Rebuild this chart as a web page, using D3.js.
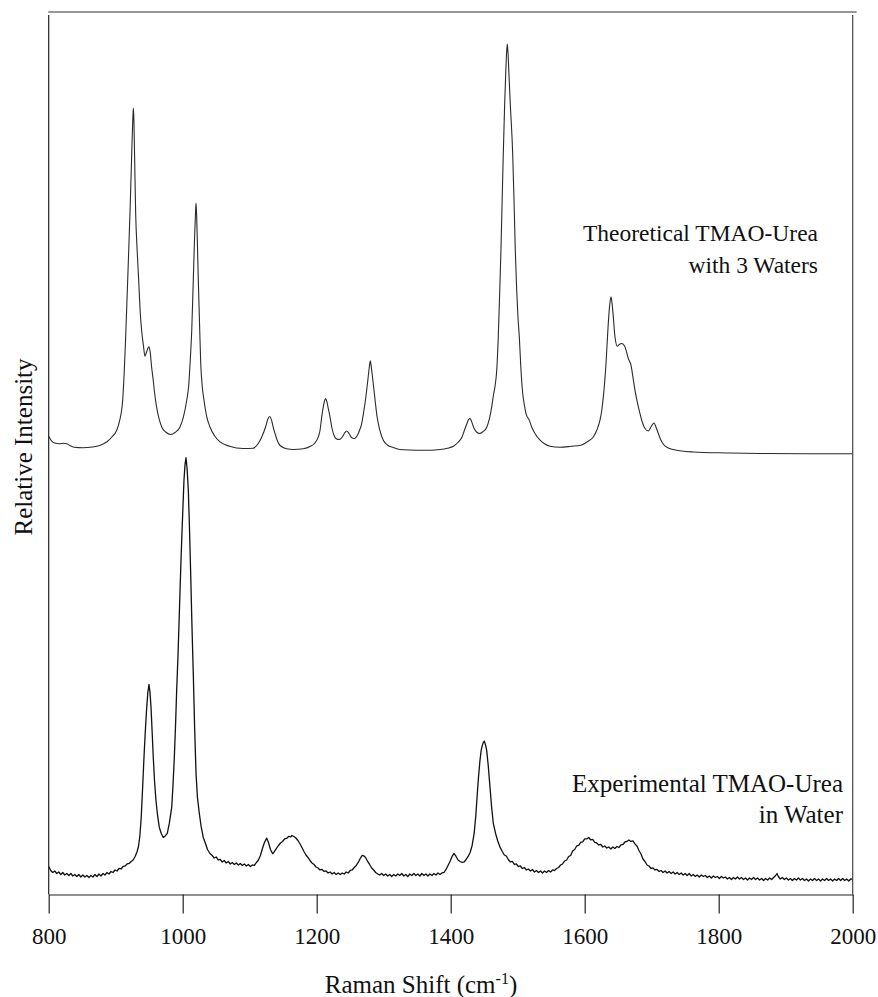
<!DOCTYPE html>
<html>
<head>
<meta charset="utf-8">
<script src="https://cdn.jsdelivr.net/npm/d3@7"></script>
<style>
  html, body { margin: 0; padding: 0; background: #fff; }
  svg { display: block; }
  text { font-family: "Liberation Serif", "Times New Roman", serif; fill: #111; }
</style>
</head>
<body>
<svg id="chart" width="878" height="997"></svg>
<script>
// ---------------- DATA ----------------
const xTicks = [800, 1000, 1200, 1400, 1600, 1800, 2000];

const theoShift = [800,804,809,816,822,827,832,838,851,865,877,887,894,901.5,906,910.4,912.5,914.3,916.3,917.9,919.7,921.3,923,924.5,925.5,926.3,927.2,928.3,929.8,932,934.3,936.7,939,941.5,943.7,946,948,949.7,951.5,953.5,956,958.5,961,964.5,968.7,975,982,989,996,1001,1006,1009,1011,1013.5,1015.8,1017.6,1019,1019.9,1020.8,1022,1023.3,1025.2,1026.9,1029,1031.8,1036,1040.7,1048,1055.7,1070,1090,1105,1112,1118,1124,1127,1130,1133,1135.5,1137.8,1141,1145,1155,1165,1180,1190,1197,1202.4,1205,1207.5,1210,1212,1213.4,1215,1217.5,1219.9,1222.5,1225.8,1229,1233.7,1238,1241.5,1244.8,1248,1251.5,1256,1260,1264,1267.2,1270.5,1272.7,1274.6,1276.8,1278.5,1280,1281.5,1283.5,1285.5,1288,1290,1292,1295.5,1299.4,1306,1314.3,1324,1350,1370,1384,1395,1404,1411,1416.9,1421,1424.3,1427,1428.8,1431,1435,1439,1443,1448,1454,1458,1461.2,1464,1466,1468.7,1471,1473,1475,1476.8,1478.5,1480.5,1482.3,1483.5,1484.5,1485.5,1487,1489,1492.5,1494.5,1496.4,1498.5,1500.5,1502.4,1504.5,1507.5,1510,1512.4,1517.3,1521,1525.8,1533.3,1540,1548.2,1563,1580,1594,1604,1612.8,1618,1622.8,1625.5,1627.8,1629.8,1631.8,1633.5,1635.2,1637.3,1639.2,1640.8,1642.7,1645.2,1648.7,1652,1655.2,1658,1660.1,1662.5,1665.1,1669.1,1672,1675,1678.5,1682.5,1686,1690,1695,1699.5,1703.4,1706.5,1709.9,1713.5,1717.3,1724,1732.2,1745,1762,1812,1861.6,1930,2000];
const theoIntensity = [458,453.5,451.3,450.5,451,450.5,448.5,447,446.5,447.2,449,452.5,457,464,474,494,519,547,584,614,649,681,719,754,774,786,774,734,681,644,614,581,562,548,538,542,546,547.3,542,528,514,499,487.3,476,467.3,462,459.7,462,467.3,477,494,509,531,564,614,654,679,691,679,649,614,569,531,509,494,477,467.3,458,452.3,448,445.7,446,450,457.3,468,475,477.7,473,466,460.7,454,449,445.5,444.7,445.5,447.7,451,457.3,464,477.3,488,494,495.7,493,485,477.3,467,459,455.5,454.7,457,461,463.3,461,457,455.7,458,464,470.7,484,494,504,517,527,533.3,527,516,504,489,478,470.7,461,454,449,446.7,444.7,444,444,444.7,446,448,452,457.3,465,470.7,475,475.7,473,465.7,462,460.7,462.5,467.3,476,487.3,500,507.3,524,557.3,599,644,694,740.7,789,824,842,850,842,819,789,740.7,694,644,604,576,557.3,529,500.7,489,480.7,474,467,460.7,454,450.5,448,447,448,449,452.5,457.3,464,474,484,497.3,512,530.7,551,570.7,589,597.3,591,577.3,557.3,548,550,550.7,549.5,547.3,542,535.7,529,517,504,492,480.7,472,465.7,463.3,468,471.3,467,460.7,454.5,450,446.5,444.7,443.2,442.3,441.3,440.7,440.5,440.5];

const expShift = [800,803,806,809,812,815,818,821,824,827,830,833,836,839,842,845,848,851,854,857,860,863,866,869,872,875,878,881,884,887,890,893,896,899,902,905,908,911,914,917,920,923,926,929,932,934,936,938,940,942.2,944,946.3,948,949.7,951.2,952.7,954.5,956.1,958,960.1,962.5,965.1,968,971,974,977,980,983.6,985.5,987.5,989.3,991,993,994.5,996.5,998.5,1000.3,1001.9,1003.5,1004.9,1006.5,1008.4,1010,1011.9,1013.8,1015.8,1017.8,1019.9,1022,1024.8,1027.5,1030.7,1034,1037,1040.7,1044,1047,1050,1053,1056,1059,1062,1065,1068,1071,1074,1077,1080,1083,1086,1089,1092,1095,1098,1101,1104,1107,1110,1113,1116,1119,1122,1125.4,1128,1131,1134.3,1137,1140,1143,1146,1149,1152,1155,1158,1161,1163,1166,1169,1172,1175,1178,1181,1184,1187,1190,1193,1196,1199,1202,1205,1208,1211,1214,1217,1220,1223,1226,1229,1232,1235,1238,1241,1244,1247,1250,1253,1256,1259,1262,1265,1268,1270.5,1273,1276,1279,1282,1285,1288,1291,1294,1297,1300,1303,1306,1309,1312,1315,1318,1321,1324,1327,1330,1333,1336,1339,1342,1345,1348,1351,1354,1357,1360,1363,1366,1369,1372,1375,1378,1381,1384,1387,1390,1393,1396,1399,1402,1405,1408,1411,1414,1417,1420,1423,1426,1429,1432,1435,1437.5,1439.7,1441.7,1443.7,1445.5,1447.2,1448.7,1450.1,1451.8,1453.7,1456,1458.7,1461,1463.6,1467,1470,1473.6,1477,1480,1483,1486,1489,1492,1495,1498,1501,1504,1507,1510,1513,1516,1519,1522,1525,1528,1531,1534,1537,1540,1543,1546,1549,1552,1555,1558,1561,1564,1567,1570,1573,1576,1579,1582,1585,1588,1591,1594,1597,1600,1603,1606,1609,1612,1615,1618,1621,1624,1627,1630,1633,1636,1639,1642,1645,1648,1651,1654,1657,1660,1663,1666,1669,1672,1675,1678,1681,1684,1687,1690,1693,1696,1699,1702,1705,1708,1711,1714,1717,1720,1723,1726,1729,1732,1735,1738,1741,1744,1747,1750,1753,1756,1759,1762,1765,1768,1771,1774,1777,1780,1783,1786,1789,1792,1795,1798,1801,1804,1807,1810,1813,1816,1819,1822,1825,1828,1831,1834,1837,1840,1843,1846,1849,1852,1855,1858,1861,1864,1867,1870,1873,1876,1879,1882,1885,1887,1889,1892,1895,1898,1901,1904,1907,1910,1913,1916,1919,1922,1925,1928,1931,1934,1937,1940,1943,1946,1949,1952,1955,1958,1961,1964,1967,1970,1973,1976,1979,1982,1985,1988,1991,1994,1997,2000];
const expIntensity = [28,24,22,23.5,21,22.5,20,22,19.5,21,19,21,18.5,20,18,20,17.5,19.5,17.5,19,17,19,17.5,20,18,20.5,18.5,21,19.5,22,20.5,23,22,24.5,23.5,26,25.5,28,28.5,30.5,31,33,34.5,38,43,48,58,76,104,137,161,187,202,210,202,187,161,137,113,94,79,67,61,57,58.5,61,71,87,109,137,169,204,239,271,314,354,386,414,430,436.5,426,404,369,321,269,221,167,121,97,81,68,57,51,45,41,39,36.5,37.5,34.5,35,32.5,34,31.5,33,30.5,32,30,31.5,29.5,31,29,30.5,28.5,30,28,29.5,29,32,34.5,39,46,52,56.3,52,45,40.7,43,46,49,51.5,53,55.5,56,58,57.5,59,58,56.5,54,50.7,47,43,39.5,37,34,31.5,30,27.5,26.5,24.5,25,23,23.5,21.5,22.5,20.5,22,20,21.5,20,21.5,20.5,22.5,21.5,24,24.5,27,29,32,36,39,38.5,37,33,30,26.5,24.5,22,20.5,19.5,21,19,20.5,18.5,20,18,20,18.5,20.5,19,21,18.5,20,18,20.5,19,21,19,20.5,18.5,21,19,20.5,18.5,20.5,19,21,19.5,21.5,20,21.5,22,25,29,33,38,41,38,34.5,33,32,32.5,35,38,42,49,61,79,101,119,134,144,149,152,153.3,150,144,129,107,88,71,61,54,47.3,43,39.5,38.5,35,32.5,33,30,30.5,28,28.5,26,27,24.5,25.5,23.5,25,22.5,24,22,23.5,21.5,23.5,22,24,22.5,24.5,24,26,27,29.5,30.5,33.5,34.5,38,39,43.5,45,48.5,49,52,52.5,55.5,55.5,57,54.5,55,52,51.5,49.5,50,47.5,48.5,46.5,47.5,45.5,47.5,46,48,47,49.5,50,52.5,53,54.5,53,53.5,50.5,48.5,44,40.5,35.5,33,29.5,28.5,26,26.5,24.5,25,23,24,22,23.5,21.5,23,21,22.5,20.5,22,20,21.5,19.5,21,19,21,18.5,20,18,19.5,17.5,19.5,18,19,17,18.5,16.5,18.5,17,18,16,18,16.5,17.5,15.5,17,15,17,15.5,17.5,15.5,17,15,16.5,14.5,16.5,15,17,15,16.5,14.5,16,14,16,14.5,16.5,15,17,19,21,18,15.5,17,15,16.5,14.5,16,14,16,14.5,16.5,14.5,16,14,15.5,13.5,15.5,14,16,14,15.5,13.5,15.5,14,16,14,15.5,13.5,15.5,14,16,14,16,14,15.5,13.5,15.5,15];

const labelTheo = ["Theoretical TMAO-Urea", "with 3 Waters"];
const labelExp = ["Experimental TMAO-Urea", "in Water"];

// ---------------- CHART ----------------
const svg = d3.select("#chart");
const mLeft = 48.7, mRight = 852.7, mTop = 14, mBottom = 894.5;

const x = d3.scaleLinear().domain([800, 2000]).range([mLeft, mRight]);
const y = d3.scaleLinear().domain([0, 880]).range([mBottom, mTop]);

const nT = Math.min(theoShift.length, theoIntensity.length);
const nE = Math.min(expShift.length, expIntensity.length);
const theo = d3.range(nT).map(i => [theoShift[i], theoIntensity[i]]);
const expt = d3.range(nE).map(i => [expShift[i], expIntensity[i]]);

svg.append("path")
  .datum(theo)
  .attr("fill", "none")
  .attr("stroke", "#2a2a2a")
  .attr("stroke-width", 1.1)
  .attr("d", d3.line().x(d => x(d[0])).y(d => y(d[1])).curve(d3.curveMonotoneX));

svg.append("path")
  .datum(expt)
  .attr("fill", "none")
  .attr("stroke", "#111")
  .attr("stroke-width", 1.3)
  .attr("stroke-linejoin", "round")
  .attr("d", d3.line().x(d => x(d[0])).y(d => y(d[1])));

// Frame: top line, left and right verticals
svg.append("line").attr("x1", mLeft - 0.5).attr("x2", mRight + 4).attr("y1", 12).attr("y2", 12)
  .attr("stroke", "#333").attr("stroke-width", 1.2);
svg.append("line").attr("x1", mLeft).attr("x2", mLeft).attr("y1", 15).attr("y2", mBottom)
  .attr("stroke", "#222").attr("stroke-width", 1.2);
svg.append("line").attr("x1", mRight).attr("x2", mRight).attr("y1", 15).attr("y2", mBottom)
  .attr("stroke", "#444").attr("stroke-width", 1.2);

// X axis
const xAxis = d3.axisBottom(x).tickValues(xTicks).tickSize(19).tickPadding(14).tickSizeOuter(0)
  .tickFormat(d3.format("d"));
const gx = svg.append("g").attr("transform", `translate(0,${mBottom})`).call(xAxis);
gx.select(".domain").attr("stroke", "#222").attr("stroke-width", 1.2);
gx.selectAll(".tick line").attr("stroke", "#222").attr("stroke-width", 1.2);
gx.selectAll(".tick text")
  .style("font-family", "'Liberation Serif', 'Times New Roman', serif")
  .style("font-size", "23px").attr("fill", "#111");

// Axis titles
const xt = svg.append("text")
  .attr("x", 421).attr("y", 993)
  .attr("text-anchor", "middle")
  .style("font-size", "25px");
xt.append("tspan").text("Raman Shift (cm");
xt.append("tspan").attr("dy", -9).style("font-size", "16px").text("-1");
xt.append("tspan").attr("dy", 9).text(")");

svg.append("text")
  .attr("transform", "translate(32,447) rotate(-90)")
  .attr("text-anchor", "middle")
  .style("font-size", "25px")
  .text("Relative Intensity");

// Series labels
svg.append("g").selectAll("text").data(labelTheo).join("text")
  .attr("x", 818).attr("y", (d, i) => 241 + i * 32)
  .attr("text-anchor", "end").style("font-size", "23.5px").text(d => d);

svg.append("g").selectAll("text").data(labelExp).join("text")
  .attr("x", 843).attr("y", (d, i) => 792 + i * 31)
  .attr("text-anchor", "end").style("font-size", "25px").text(d => d);

if (theoShift.length !== theoIntensity.length || expShift.length !== expIntensity.length) {
  throw new Error("length mismatch theo " + theoShift.length + "/" + theoIntensity.length +
    " exp " + expShift.length + "/" + expIntensity.length);
}
</script>
</body>
</html>
